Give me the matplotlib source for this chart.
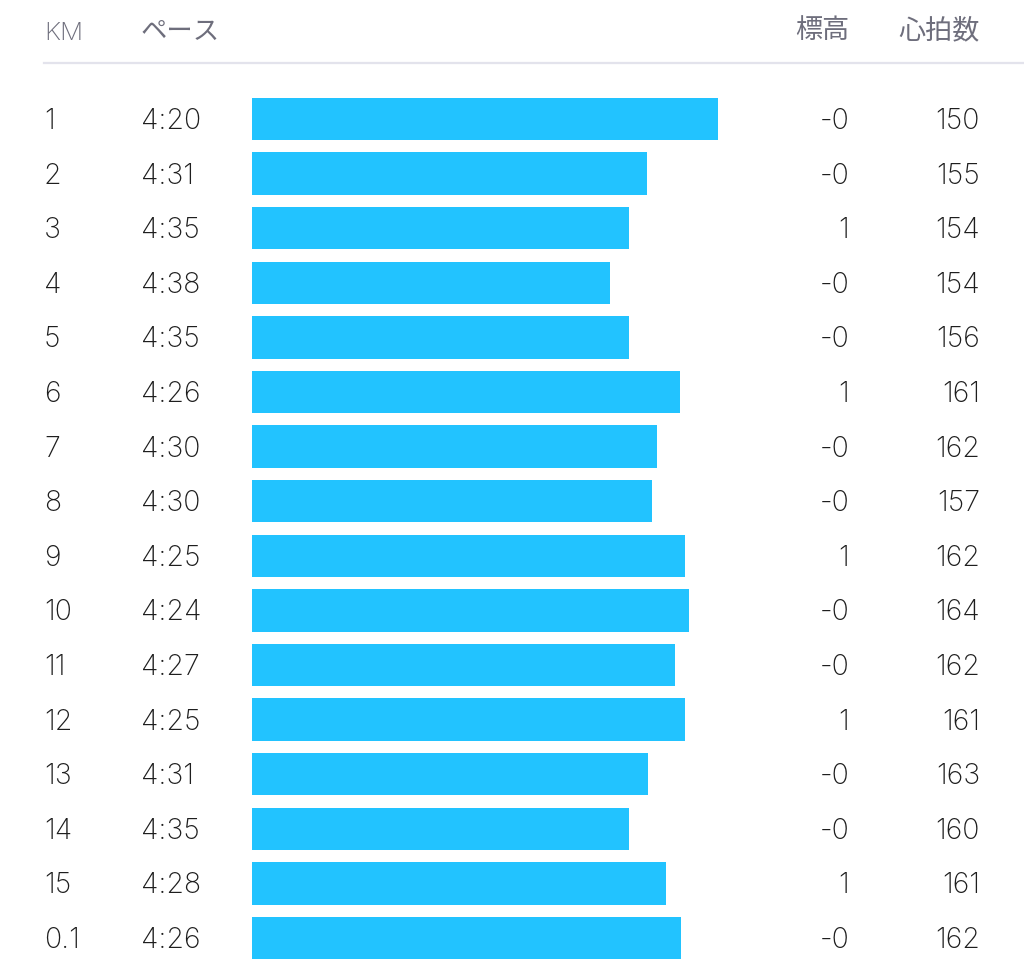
import matplotlib
matplotlib.use("Agg")
import matplotlib.pyplot as plt
from matplotlib.transforms import blended_transform_factory

plt.rcParams["font.family"] = ["Inter", "Noto Sans CJK JP", "DejaVu Sans"]

KM = ["1", "2", "3", "4", "5", "6", "7", "8", "9", "10", "11", "12", "13", "14", "15", "0.1"]
PACE_LABEL = ["4:20", "4:31", "4:35", "4:38", "4:35", "4:26", "4:30", "4:30",
              "4:25", "4:24", "4:27", "4:25", "4:31", "4:35", "4:28", "4:26"]
# pace in seconds per km (unrounded)
PACE_SEC = [260.0, 271.9, 274.9, 278.1, 274.9, 266.3, 270.2, 271.0,
            265.5, 264.8, 267.2, 265.5, 271.8, 274.9, 268.7, 266.2]
ELEV = ["-0", "-0", "1", "-0", "-0", "1", "-0", "-0", "1", "-0", "-0", "1", "-0", "-0", "1", "-0"]
HR = [150, 155, 154, 154, 156, 161, 162, 157, 162, 164, 162, 161, 163, 160, 161, 162]
HEADERS = ["KM", "ペース", "標高", "心拍数"]

BAR_COL = "#22C3FF"
TXT = "#1e1e1e"
HEAD = "#6e6e7c"
W, H = 1024, 973
BASE = 338.4          # pace at which a bar would have zero length
ROW0, ROWH = 119, 54.6

fig = plt.figure(figsize=(W / 100, H / 100), dpi=100)
fig.patch.set_facecolor("white")

# bar axes spanning full height; y in row units
ax = fig.add_axes([252 / W, 0, 520 / W, 1])
ax.set_ylim((H - ROW0) / ROWH, -ROW0 / ROWH)
ax.set_xlim(BASE, BASE - 520 / 5.94)
ax.axis("off")
rows = list(range(len(KM)))
ax.barh(rows, [BASE - p for p in PACE_SEC], left=PACE_SEC, height=0.78,
        color=BAR_COL, edgecolor="none")

tr = blended_transform_factory(fig.transFigure, ax.transData)
fs, fw = 20.5, "light"
off = 10 / ROWH       # baseline sits a bit below the row centre
for i in rows:
    y = i + off
    ax.text(44 / W, y, KM[i], transform=tr, ha="left", va="baseline",
            fontsize=fs, color=TXT, fontweight=fw)
    ax.text(141 / W, y, PACE_LABEL[i], transform=tr, ha="left", va="baseline",
            fontsize=fs, color=TXT, fontweight=fw)
    ax.text(849 / W, y, ELEV[i], transform=tr, ha="right", va="baseline",
            fontsize=fs, color=TXT, fontweight=fw)
    ax.text(980 / W, y, str(HR[i]), transform=tr, ha="right", va="baseline",
            fontsize=fs, color=TXT, fontweight=fw)

fig.text(44 / W, 1 - 40 / H, HEADERS[0], ha="left", va="baseline", fontsize=18.5,
         color=HEAD, fontweight=fw)
hy = 1 - 31 / H
jp = ["Noto Sans CJK JP", "DejaVu Sans"]
fig.text(141 / W, hy, HEADERS[1], ha="left", va="center", fontsize=19, color=HEAD, family=jp)
fig.text(849 / W, hy, HEADERS[2], ha="right", va="center", fontsize=19.5, color=HEAD, family=jp)
fig.text(980 / W, hy, HEADERS[3], ha="right", va="center", fontsize=19.5, color=HEAD, family=jp)

fig.add_artist(plt.Line2D([44 / W, 1], [1 - 63 / H] * 2, color="#e3e3ec", lw=1.6))

fig.savefig("out.png", dpi=100, facecolor="white")
